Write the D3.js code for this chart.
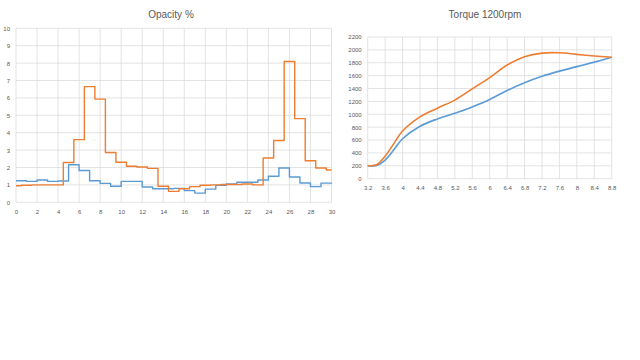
<!DOCTYPE html>
<html><head><meta charset="utf-8">
<script src="https://cdn.jsdelivr.net/npm/d3@7/dist/d3.min.js"></script>
<style>body{margin:0;background:#fff}svg{display:block}</style>
</head><body><svg id="c" width="640" height="360"></svg>
<script>
// Opacity % chart
const opacityX = d3.range(0, 31);
const opacityBlue = [1.24,1.2,1.28,1.2,1.22,2.16,1.83,1.24,1.09,0.92,1.2,1.2,0.88,0.78,0.78,0.8,0.67,0.53,0.76,0.97,1.05,1.15,1.15,1.28,1.5,1.97,1.45,1.11,0.9,1.1,1.07];
const opacityOrange = [0.95,0.98,1.0,1.0,1.0,2.29,3.6,6.65,5.93,2.86,2.3,2.07,2.03,1.95,0.92,0.63,0.78,0.9,0.98,1.0,1.02,1.02,1.05,1.0,2.55,3.55,8.09,4.81,2.39,1.97,1.86];
const opacityXTicks = d3.range(0, 31, 2);
const opacityYTicks = d3.range(0, 11, 1);

// Torque 1200rpm chart
const torqueX = [3.2,3.4,3.6,3.8,4.0,4.4,4.8,5.2,5.6,6.0,6.4,6.8,7.2,7.6,8.0,8.4,8.8];
const torqueBlue = [200,205,290,450,620,815,928,1015,1115,1230,1370,1490,1590,1670,1740,1810,1885];
const torqueOrange = [205,215,350,545,740,960,1095,1220,1395,1570,1765,1895,1950,1955,1930,1905,1885];
const torqueXTicks = [3.2,3.6,4,4.4,4.8,5.2,5.6,6,6.4,6.8,7.2,7.6,8,8.4,8.8];
const torqueYTicks = d3.range(0, 2201, 200);

const BLUE = "#5B9BD5", ORANGE = "#ED7D31", GRID = "#d9d9d9", TXT = "#595959";
const FONT = "'Liberation Sans', Arial, sans-serif";
const svg = d3.select("#c");

function chart(cfg) {
  const g = svg.append("g");
  const x = d3.scaleLinear().domain(cfg.xDomain).range([cfg.left, cfg.right]);
  const y = d3.scaleLinear().domain(cfg.yDomain).range([cfg.bottom, cfg.top]);
  g.append("g").selectAll("line").data(cfg.yTicks).join("line")
    .attr("x1", cfg.left).attr("x2", cfg.right)
    .attr("y1", d => y(d)).attr("y2", d => y(d))
    .attr("stroke", GRID).attr("stroke-width", 0.75);
  g.append("g").selectAll("line").data(cfg.xTicks).join("line")
    .attr("y1", cfg.top).attr("y2", cfg.bottom)
    .attr("x1", d => x(d)).attr("x2", d => x(d))
    .attr("stroke", GRID).attr("stroke-width", 0.75);
  const ya = d3.axisLeft(y).tickValues(cfg.yTicks).tickSize(0).tickPadding(cfg.yPad).tickFormat(d => String(d));
  const yg = g.append("g").attr("transform", `translate(${cfg.left},0)`).call(ya);
  const xa = d3.axisBottom(x).tickValues(cfg.xTicks).tickSize(0).tickPadding(cfg.xPad).tickFormat(d => String(d));
  const xg = g.append("g").attr("transform", `translate(0,${cfg.bottom})`).call(xa);
  [yg, xg].forEach(a => {
    a.select(".domain").remove();
    a.selectAll("text").attr("fill", TXT).style("font-family", FONT).style("font-size", "6px");
  });
  cfg.series.forEach(s => {
    const line = d3.line().x((d, i) => x(cfg.xs[i])).y(d => y(d)).curve(s.curve);
    g.append("path").datum(s.values).attr("d", line)
      .attr("fill", "none").attr("stroke", s.color).attr("stroke-width", cfg.sw)
      .attr("stroke-linejoin", "round");
  });
  g.append("text").attr("x", cfg.titleX).attr("y", 18).attr("text-anchor", "middle")
    .attr("fill", TXT).style("font-family", FONT).style("font-size", "10px").text(cfg.title);
}

chart({
  title: "Opacity %", titleX: 171,
  left: 16, right: 331.5, top: 28.3, bottom: 202.3,
  xDomain: [0, 30], yDomain: [0, 10], xTicks: opacityXTicks, yTicks: opacityYTicks,
  xs: opacityX, yPad: 6, xPad: 7, sw: 1.4,
  series: [
    {values: opacityBlue, color: BLUE, curve: d3.curveStepAfter},
    {values: opacityOrange, color: ORANGE, curve: d3.curveStep}
  ]
});
chart({
  title: "Torque 1200rpm", titleX: 485,
  left: 367.7, right: 611.7, top: 37, bottom: 178.7,
  xDomain: [3.2, 8.8], yDomain: [0, 2200], xTicks: torqueXTicks, yTicks: torqueYTicks,
  xs: torqueX, yPad: 6, xPad: 7, sw: 1.6,
  series: [
    {values: torqueBlue, color: BLUE, curve: d3.curveCatmullRom.alpha(0.5)},
    {values: torqueOrange, color: ORANGE, curve: d3.curveCatmullRom.alpha(0.5)}
  ]
});
</script></body></html>
